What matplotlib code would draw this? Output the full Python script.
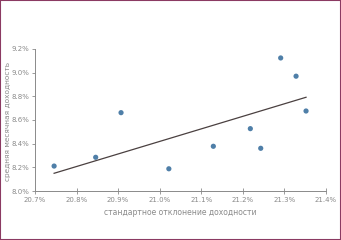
import numpy as np
import matplotlib.pyplot as plt
from matplotlib.patches import Rectangle
from matplotlib.ticker import FuncFormatter

# data (percent)
std_dev = [20.746, 20.846, 20.907, 21.022, 21.129, 21.218, 21.243, 21.291, 21.328, 21.352]
mean_ret = [8.211, 8.285, 8.662, 8.188, 8.378, 8.527, 8.361, 9.124, 8.970, 8.676]
trend_x = [20.746, 21.352]
trend_y = [8.150, 8.792]
x_ticks = [20.7, 20.8, 20.9, 21.0, 21.1, 21.2, 21.3, 21.4]
y_ticks = [8.0, 8.2, 8.4, 8.6, 8.8, 9.0, 9.2]

TXT = "#8a8a8a"

fig = plt.figure(figsize=(3.41, 2.40), dpi=100)
ax = fig.add_axes([0.1026, 0.204, 0.8534, 0.592])

ax.plot(trend_x, trend_y, color="#4a4040", lw=0.9, zorder=2)
ax.scatter(std_dev, mean_ret, s=14, color="#4f7fa8", edgecolors="none", zorder=3)

ax.set_xlim(20.7, 21.4)
ax.set_ylim(8.0, 9.2)
ax.set_xticks(x_ticks)
ax.set_yticks(y_ticks)
ax.xaxis.set_major_formatter(FuncFormatter(lambda v, p: f"{v:.1f}%"))
ax.yaxis.set_major_formatter(FuncFormatter(lambda v, p: f"{v:.1f}%"))
ax.tick_params(axis="x", direction="inout", length=4, width=0.6, color="#8a8a8a",
               labelsize=5, labelcolor=TXT, pad=2)
ax.tick_params(axis="y", direction="out", length=2.5, width=0.6, color="#8a8a8a",
               labelsize=5, labelcolor=TXT, pad=1.5)
for s in ["top", "right"]:
    ax.spines[s].set_visible(False)
for s in ["left", "bottom"]:
    ax.spines[s].set_color("#8a8a8a")
    ax.spines[s].set_linewidth(0.7)

ax.set_xlabel("стандартное отклонение доходности", fontsize=5.5, color=TXT, labelpad=4)
ax.set_ylabel("средняя месячная доходность", fontsize=5.3, color=TXT)
ax.yaxis.set_label_coords(-0.083, 0.49)

fig.patches.append(Rectangle((0, 0), 1, 1, transform=fig.transFigure, fill=False,
                             edgecolor="#8b3a62", lw=1.5, zorder=10))

fig.savefig("out.png", dpi=100, facecolor="white")
